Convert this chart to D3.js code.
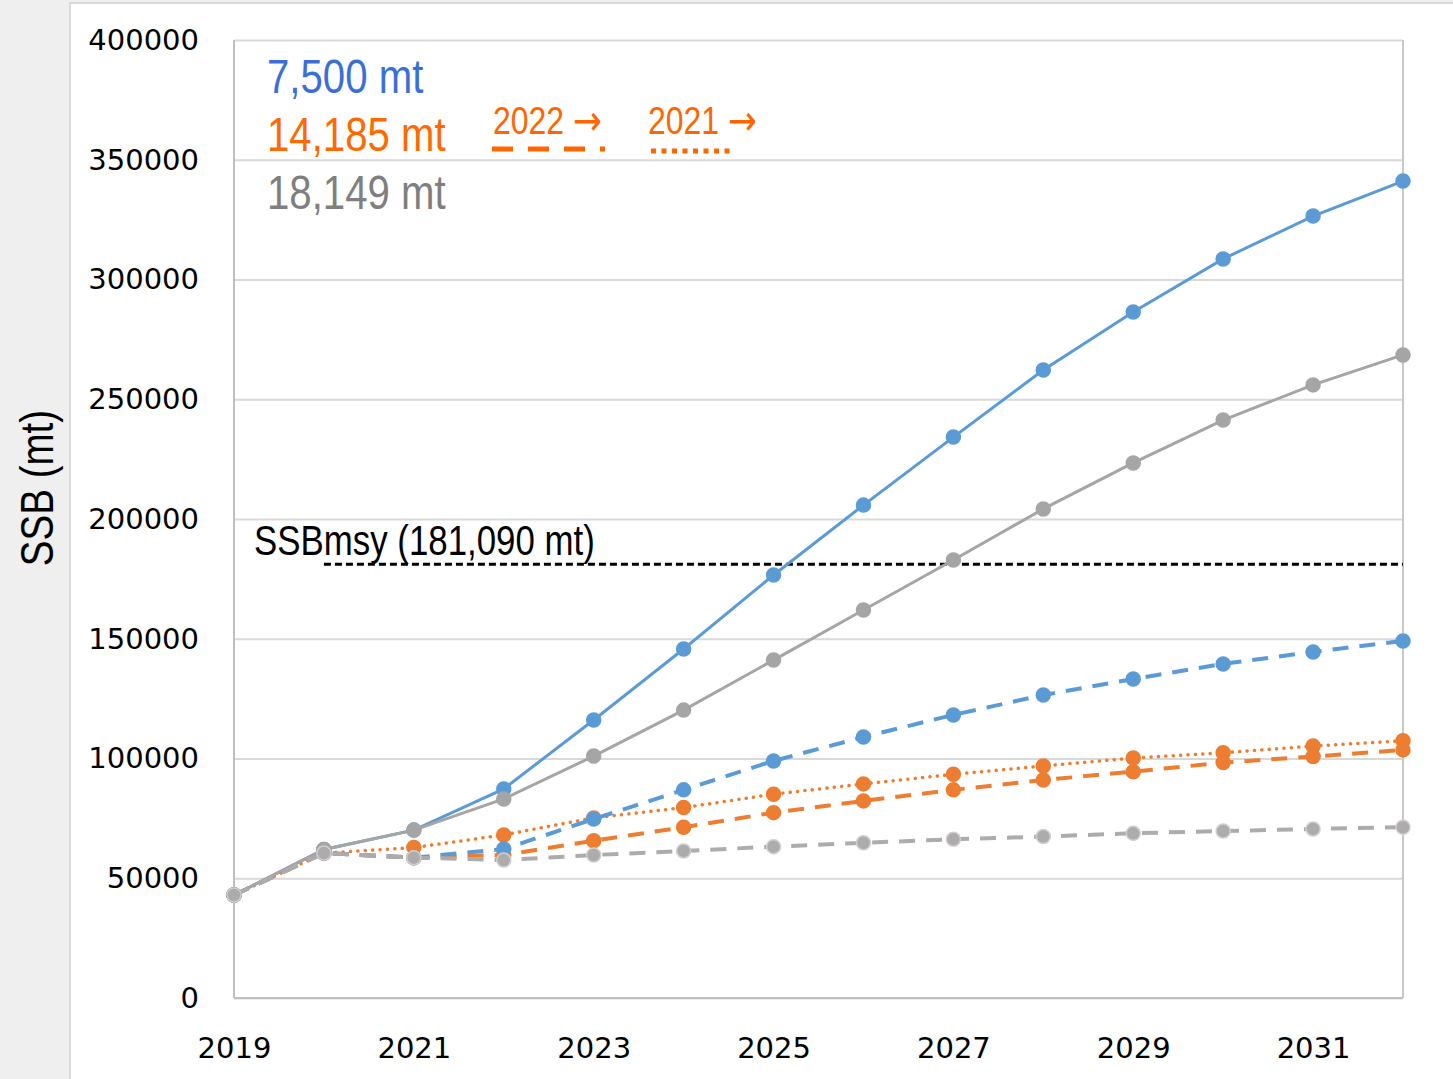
<!DOCTYPE html>
<html>
<head>
<meta charset="utf-8">
<script src="https://cdn.jsdelivr.net/npm/d3@7"></script>
<style>
  body { margin: 0; background: #efefef; }
  svg { display: block; }
</style>
</head>
<body>
<div id="chart"></div>
<script>
// projection years
const years = [2019, 2020, 2021, 2022, 2023, 2024, 2025, 2026, 2027, 2028, 2029, 2030, 2031, 2032];

// SSB (mt)
const blue2021 = [43000, 62000, 70100, 87300, 116100, 145700, 176600, 205800, 234200, 262200, 286400, 308600, 326500, 341100];
const grey2021 = [43000, 62000, 70100, 83100, 101000, 120200, 141100, 162000, 182900, 204200, 223400, 241300, 256000, 268500];
const orange2021 = [43000, 60500, 62800, 68100, 75200, 79500, 85100, 89400, 93400, 96900, 100200, 102400, 105200, 107400];
const blue2022 = [43000, 60500, 58600, 62200, 74700, 86900, 99000, 109000, 118200, 126500, 133200, 139500, 144500, 149100];
const orange2022 = [43000, 60500, 58600, 59700, 65700, 71300, 77400, 82300, 86900, 91000, 94500, 98300, 100800, 103600];
const grey2022 = [43000, 60500, 58600, 57600, 59700, 61400, 63200, 64800, 66300, 67400, 68800, 69700, 70600, 71300];

const ssbMsy = 181090;
const yTicks = [0, 50000, 100000, 150000, 200000, 250000, 300000, 350000, 400000];
const xTickYears = [2019, 2021, 2023, 2025, 2027, 2029, 2031];

const catchLabels = ['7,500 mt', '14,185 mt', '18,149 mt'];
const startLabels = ['2022', '2021'];

const blue = '#5b9bd5';
const orange = '#ed7d31';
const grey = '#a5a5a5';
const greyLight = '#aeabab';

const W = 1453, H = 1079;
const margin = { top: 40, right: 50, bottom: 81, left: 234 };
const width = W - margin.left - margin.right;
const height = H - margin.top - margin.bottom;

const narrow = 0.82; // squeeze Liberation Sans to an Arial Narrow look

const root = d3.select('#chart')
  .append('svg')
  .attr('width', W)
  .attr('height', H);

// white chart area
root.append('rect')
  .attr('x', 70).attr('y', 3)
  .attr('width', W - 68).attr('height', H)
  .attr('fill', '#fff')
  .attr('stroke', '#d9d9d9')
  .attr('stroke-width', 2);

const svg = root.append('g')
  .attr('transform', `translate(${margin.left}, ${margin.top})`);

const xScale = d3.scaleLinear().domain([2019, 2032]).range([0, width]);
const yScale = d3.scaleLinear().domain([0, 400000]).range([height, 0]);

// gridlines
svg.append('g')
  .call(d3.axisLeft(yScale).tickValues(yTicks).tickSize(-width).tickFormat(''))
  .call(g => g.select('.domain').remove())
  .call(g => g.selectAll('line').attr('stroke', '#d9d9d9').attr('stroke-width', 2));

// plot frame (left, right, bottom)
svg.append('line')
  .attr('x1', 0).attr('x2', 0).attr('y1', 0).attr('y2', height)
  .attr('stroke', '#bfbfbf').attr('stroke-width', 2);
svg.append('line')
  .attr('x1', width).attr('x2', width).attr('y1', 0).attr('y2', height)
  .attr('stroke', '#c8c8c8').attr('stroke-width', 2);
svg.append('line')
  .attr('x1', 0).attr('x2', width).attr('y1', height).attr('y2', height)
  .attr('stroke', '#bfbfbf').attr('stroke-width', 2);

// axes labels
svg.append('g')
  .call(d3.axisLeft(yScale).tickValues(yTicks).tickSize(0).tickPadding(35).tickFormat(d3.format('d')))
  .call(g => g.select('.domain').remove())
  .selectAll('text')
  .style('font-family', 'DejaVu Sans')
  .style('font-size', '29px')
  .attr('fill', '#000');

svg.append('g')
  .attr('transform', `translate(0, ${height})`)
  .call(d3.axisBottom(xScale).tickValues(xTickYears).tickSize(0).tickPadding(39).tickFormat(d3.format('d')))
  .call(g => g.select('.domain').remove())
  .selectAll('text')
  .style('font-family', 'DejaVu Sans')
  .style('font-size', '29px')
  .attr('fill', '#000');

const narrowText = (parent, x, y, size, color, txt, extra) => parent.append('text')
  .attr('transform', `translate(${x}, ${y}) ${extra || ''} scale(${narrow}, 1)`)
  .style('font-family', 'Liberation Sans')
  .style('font-size', size + 'px')
  .attr('fill', color)
  .text(txt);

narrowText(root, 37, 488, 47, '#000', 'SSB (mt)', 'rotate(-90)')
  .attr('text-anchor', 'middle')
  .attr('dominant-baseline', 'central');

// SSBmsy reference line
svg.append('line')
  .attr('x1', xScale(2020)).attr('x2', xScale(2032))
  .attr('y1', yScale(ssbMsy)).attr('y2', yScale(ssbMsy))
  .attr('stroke', '#000')
  .attr('stroke-width', 3)
  .attr('stroke-dasharray', '7 4');
narrowText(svg, xScale(2019) + 20, yScale(ssbMsy) - 9, 42.5, '#000', 'SSBmsy (181,090 mt)');

// series, drawn back to front
const series = [
  { values: orange2021, color: orange, dash: '0.1 7.3', cap: 'round', width: 3.5, edge: orange },
  { values: orange2022, color: orange, dash: '16 11', cap: 'butt', width: 4, edge: orange },
  { values: blue2022, color: blue, dash: '16 11', cap: 'butt', width: 4, edge: blue },
  { values: blue2021, color: blue, dash: null, cap: 'butt', width: 3, edge: blue },
  { values: grey2021, color: grey, dash: null, cap: 'butt', width: 3, edge: grey },
  { values: grey2022, color: greyLight, dash: '16 11', cap: 'butt', width: 4, edge: '#d0cece' }
];

const line = d3.line()
  .x((d, i) => xScale(years[i]))
  .y(d => yScale(d));

series.forEach(s => {
  svg.append('path')
    .datum(s.values)
    .attr('fill', 'none')
    .attr('stroke', s.color)
    .attr('stroke-width', s.width)
    .attr('stroke-linecap', s.cap)
    .attr('stroke-dasharray', s.dash)
    .attr('d', line);
  svg.selectAll(null)
    .data(s.values)
    .enter()
    .append('circle')
    .attr('cx', (d, i) => xScale(years[i]))
    .attr('cy', d => yScale(d))
    .attr('r', 7)
    .attr('fill', s.color)
    .attr('stroke', s.edge)
    .attr('stroke-width', 1.5);
});

// legend text
const legendColors = ['#3c6fd6', '#ff6a00', '#7f7f7f'];
catchLabels.forEach((d, i) => {
  narrowText(root, 267, 93 + i * 58, 49, legendColors[i], d);
});

const startX = [493, 648];
startLabels.forEach((d, i) => {
  const t = narrowText(root, startX[i], 134, 39, '#ff6600', d + ' ');
  t.append('tspan')
    .style('font-family', 'DejaVu Sans')
    .style('font-size', '42px')
    .attr('dy', 1)
    .text('\u2192');
});

root.append('line')
  .attr('x1', 492).attr('x2', 605).attr('y1', 149).attr('y2', 149)
  .attr('stroke', '#ff6600').attr('stroke-width', 5)
  .attr('stroke-dasharray', '21 15');
root.append('line')
  .attr('x1', 651).attr('x2', 733).attr('y1', 151).attr('y2', 151)
  .attr('stroke', '#ff6600').attr('stroke-width', 5)
  .attr('stroke-dasharray', '5 5.5');
</script>
</body>
</html>
